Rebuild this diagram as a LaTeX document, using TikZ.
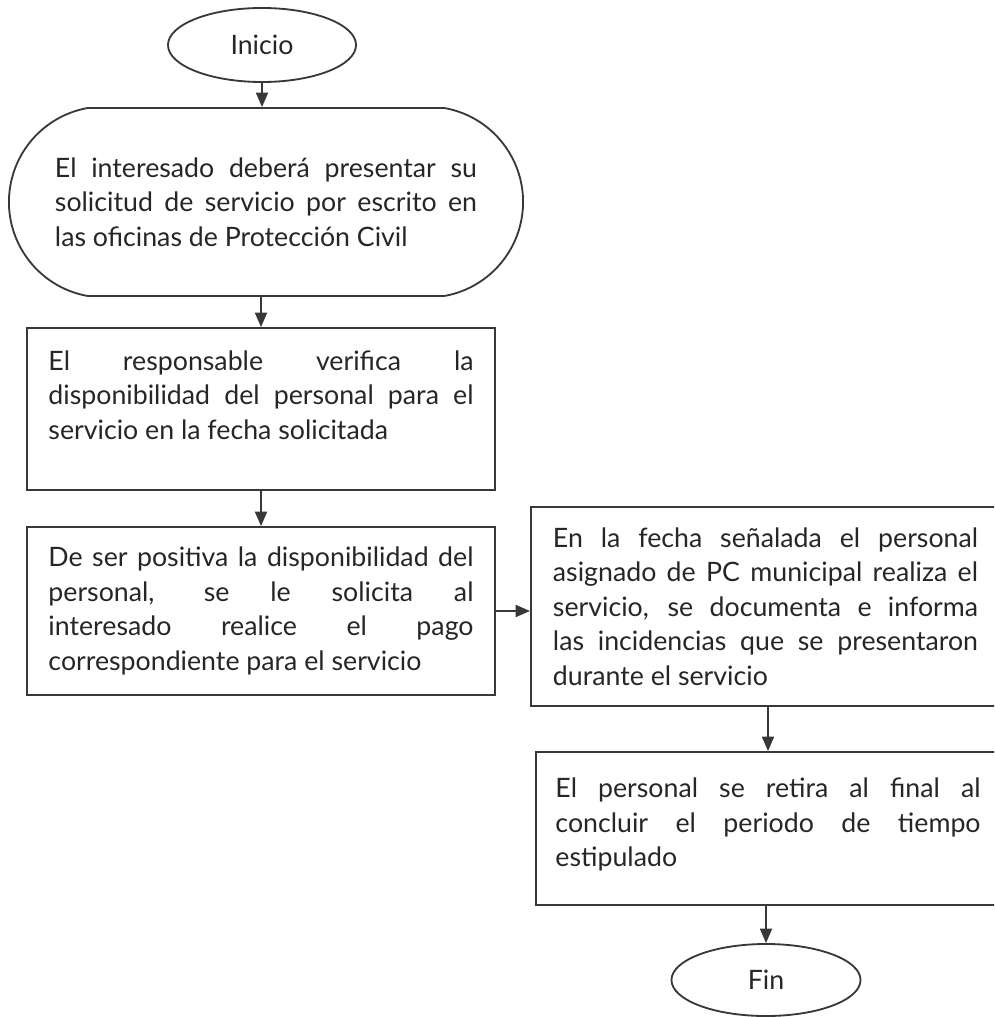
\documentclass[tikz,border=0pt]{standalone}
\usepackage{fontspec}
\setmainfont{Lato}
\usetikzlibrary{arrows.meta,shapes.geometric,shapes.misc}

\tikzset{
    flowline/.style={draw=black!78, line width=1.3pt},
    terminal/.style={flowline, ellipse, inner sep=0pt},
    processbox/.style={flowline, rectangle, align=justify, inner sep=0pt},
    flowarrow/.style={black!78, line width=1.3pt,
        -{Triangle[length=0.36cm, width=0.3cm]}},
}

\begin{document}
\begin{tikzpicture}[x=0.025cm, y=-0.025cm,
    every node/.style={font=\fontsize{19pt}{24.6pt}\selectfont, text=black!85}]
    \clip (0,0) rectangle (994,1017);

    % Inicio
    \node[terminal, minimum width=4.7cm, minimum height=1.85cm]
        (inicio) at (262,45) {Inicio};

    % Solicitud
    \node[flowline, rounded rectangle, rounded rectangle arc length=160,
          minimum width=12.85cm, minimum height=4.7cm,
          text width=10.55cm, align=justify, inner sep=0pt]
        (solicitud) at (266,202)
        {El interesado deberá presentar su\linebreak
         solicitud de servicio por escrito en\linebreak
         las oficinas de Protección Civil};

    % Verificacion
    \node[processbox, minimum width=11.7cm, minimum height=4.05cm,
          text width=10.625cm]
        (verifica) at (261,409)
        {El responsable verifica la\linebreak
         disponibilidad del personal para el\linebreak
         servicio en la fecha solicitada\rule[-0.7cm]{0pt}{0pt}};

    % Pago
    \node[processbox, minimum width=11.7cm, minimum height=4.2cm,
          text width=10.625cm]
        (pago) at (261,611)
        {De ser positiva la disponibilidad del\linebreak
         personal, se le solicita al\linebreak
         interesado realice el pago\linebreak
         correspondiente para el servicio};

    % Servicio
    \node[processbox, minimum width=11.725cm, minimum height=4.975cm,
          text width=10.625cm]
        (servicio) at (765.5,606.5)
        {En la fecha señalada el personal\linebreak
         asignado de PC municipal realiza el\linebreak
         servicio, se documenta e informa\linebreak
         las incidencias que se presentaron\linebreak
         durante el servicio};

    % Retiro
    \node[processbox, minimum width=11.6cm, minimum height=3.825cm,
          text width=10.625cm]
        (retiro) at (768,828.5)
        {El personal se retira al final al\linebreak
         concluir el periodo de tiempo\linebreak
         estipulado\rule[-0.3cm]{0pt}{0pt}};

    % Fin
    \node[terminal, minimum width=4.725cm, minimum height=1.8cm]
        (fin) at (766,980) {Fin};

    % Flechas
    \draw[flowarrow] (inicio) -- (inicio |- solicitud.north);
    \draw[flowarrow] (verifica.north |- solicitud.south) -- (verifica.north);
    \draw[flowarrow] (verifica) -- (pago);
    \draw[flowarrow] (pago.east) -- (pago.east -| servicio.west);
    \draw[flowarrow] (servicio.south -| retiro.north) -- (retiro.north);
    \draw[flowarrow] (fin.north |- retiro.south) -- (fin.north);
\end{tikzpicture}
\end{document}
